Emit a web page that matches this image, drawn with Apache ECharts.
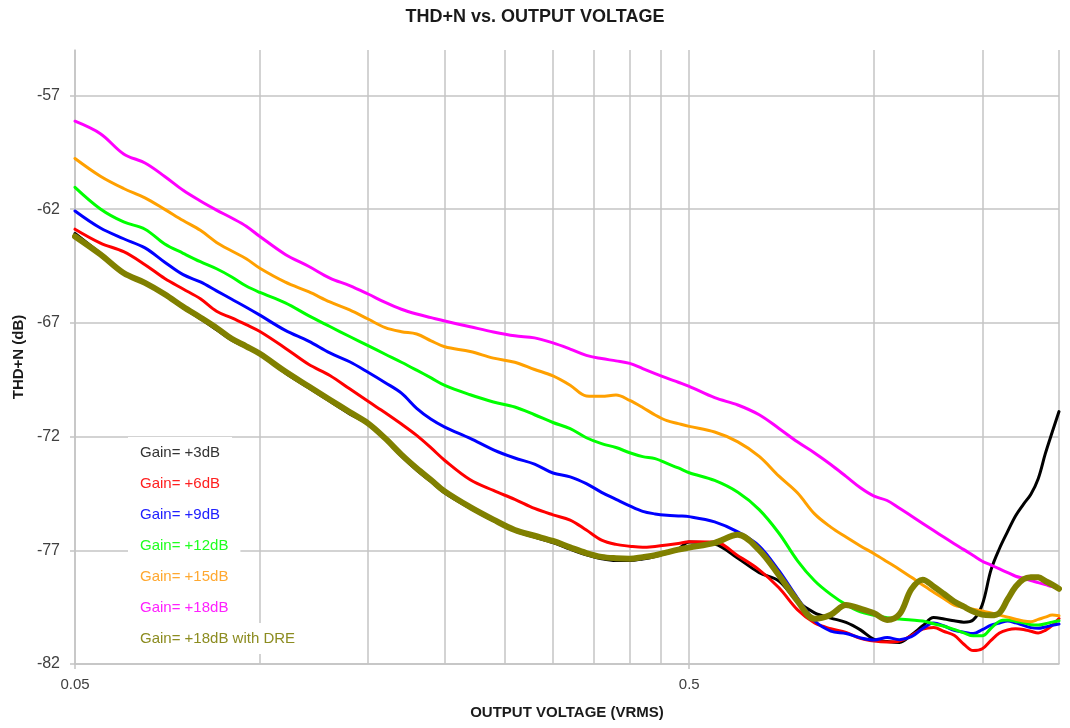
<!DOCTYPE html>
<html>
<head>
<meta charset="utf-8">
<script src="https://cdn.jsdelivr.net/npm/echarts@6/dist/echarts.min.js"></script>
<style>
html,body{margin:0;padding:0;background:#fff;}
#chart{width:1070px;height:728px;}
</style>
</head>
<body>
<div id="chart"></div>
<script>
const voltage = [0.05,0.055,0.06,0.065,0.07,0.075,0.08,0.085,0.09,0.095,
  0.1,0.11,0.12,0.13,0.14,0.15,0.16,0.17,0.18,0.19,0.2,
  0.22,0.24,0.26,0.28,0.3,0.32,0.34,0.36,0.38,0.4,0.42,0.44,0.46,0.48,
  0.5,
  0.55,0.6,0.65,0.7,0.75,0.8,0.85,0.9,0.95,
  1.0,1.05,1.1,1.15,1.2,1.25,1.3,1.35,1.4,1.45,1.5,1.55,1.6,1.65,1.7,1.75,1.8,1.85,1.9,1.95,2.0];

const gain3 = [-63.07,-63.95,-64.8,-65.25,-65.78,-66.33,-66.82,-67.3,-67.76,-68.07,
  -68.38,-69.2,-69.85,-70.45,-71.0,-71.45,-72.12,-72.86,-73.47,-73.98,-74.48,
  -75.15,-75.7,-76.15,-76.42,-76.66,-76.95,-77.2,-77.37,-77.45,-77.45,-77.38,-77.27,-77.12,-76.95,
  -76.63,
  -76.72,-77.35,-77.98,-78.35,-79.24,-79.75,-79.98,-80.17,-80.5,
  -80.92,-81.01,-81.05,-80.72,-80.32,-79.96,-80.02,-80.1,-80.16,-80.06,-79.39,-77.86,-76.92,-76.17,-75.48,-74.98,-74.53,-73.85,-72.75,-71.8,-70.9];

const gain6 = [-62.88,-63.49,-63.87,-64.44,-65.05,-65.51,-65.94,-66.49,-66.78,-67.08,
  -67.38,-68.11,-68.82,-69.31,-69.9,-70.45,-70.95,-71.45,-71.95,-72.5,-73.05,
  -73.9,-74.37,-74.76,-75.16,-75.44,-75.67,-76.11,-76.55,-76.74,-76.82,-76.87,-76.83,-76.77,-76.7,
  -76.62,
  -76.63,-77.24,-77.86,-78.65,-79.61,-80.19,-80.45,-80.61,-80.87,
  -80.99,-81.03,-80.99,-80.75,-80.47,-80.4,-80.57,-80.74,-81.13,-81.41,-81.33,-80.96,-80.64,-80.5,-80.45,-80.48,-80.56,-80.64,-80.52,-80.3,-80.0];

const gain9 = [-62.08,-62.83,-63.3,-63.7,-64.33,-64.88,-65.2,-65.59,-65.96,-66.31,
  -66.66,-67.33,-67.8,-68.32,-68.71,-69.17,-69.63,-70.09,-70.76,-71.24,-71.58,
  -72.08,-72.58,-72.94,-73.21,-73.6,-73.77,-74.07,-74.45,-74.76,-75.05,-75.29,-75.4,-75.46,-75.49,
  -75.52,
  -75.75,-76.19,-76.81,-77.9,-79.09,-80.1,-80.55,-80.66,-80.85,
  -80.94,-80.84,-80.93,-80.8,-80.44,-80.2,-80.33,-80.52,-80.6,-80.66,-80.49,-80.29,-80.2,-80.11,-80.19,-80.3,-80.4,-80.43,-80.37,-80.3,-80.24];

const gain12 = [-61.04,-61.99,-62.56,-62.88,-63.53,-63.94,-64.31,-64.62,-64.98,-65.38,
  -65.66,-66.12,-66.68,-67.16,-67.6,-68.0,-68.38,-68.73,-69.08,-69.42,-69.75,
  -70.16,-70.48,-70.7,-71.04,-71.38,-71.65,-72.05,-72.31,-72.48,-72.71,-72.88,-72.97,-73.18,-73.38,
  -73.59,
  -73.93,-74.45,-75.21,-76.25,-77.45,-78.34,-78.94,-79.39,-79.71,
  -79.86,-79.97,-80.02,-80.06,-80.11,-80.23,-80.34,-80.48,-80.63,-80.76,-80.76,-80.43,-80.12,-80.07,-80.13,-80.19,-80.27,-80.29,-80.23,-80.16,-80.1];

const gain15 = [-59.77,-60.55,-61.09,-61.5,-62.01,-62.5,-62.93,-63.46,-63.84,-64.18,
  -64.6,-65.21,-65.63,-66.08,-66.43,-66.83,-67.21,-67.39,-67.49,-67.79,-68.05,
  -68.26,-68.55,-68.73,-69.05,-69.33,-69.74,-70.21,-70.23,-70.17,-70.41,-70.72,-71.05,-71.3,-71.43,
  -71.55,
  -71.8,-72.23,-72.87,-73.74,-74.47,-75.4,-75.98,-76.42,-76.81,
  -77.15,-77.5,-77.84,-78.19,-78.53,-78.84,-79.13,-79.41,-79.51,-79.59,-79.67,-79.76,-79.85,-79.94,-80.03,-80.11,-80.14,-80.04,-79.94,-79.85,-79.88];

const gain18 = [-58.13,-58.68,-59.57,-59.97,-60.56,-61.17,-61.64,-62.04,-62.39,-62.75,
  -63.2,-63.99,-64.51,-65.03,-65.36,-65.73,-66.1,-66.4,-66.61,-66.77,-66.92,
  -67.17,-67.4,-67.57,-67.66,-67.88,-68.15,-68.43,-68.57,-68.67,-68.78,-69.01,-69.23,-69.43,-69.61,
  -69.79,
  -70.29,-70.61,-71.04,-71.64,-72.23,-72.72,-73.23,-73.75,-74.25,
  -74.62,-74.81,-75.15,-75.49,-75.82,-76.13,-76.43,-76.71,-76.97,-77.23,-77.48,-77.65,-77.82,-77.98,-78.14,-78.23,-78.33,-78.42,-78.51,-78.6,-78.68];

const gain18dre = [-63.2,-63.99,-64.81,-65.24,-65.74,-66.29,-66.76,-67.22,-67.7,-68.03,
  -68.36,-69.14,-69.79,-70.38,-70.92,-71.42,-72.08,-72.79,-73.39,-73.91,-74.41,
  -75.1,-75.65,-76.11,-76.36,-76.59,-76.87,-77.12,-77.29,-77.35,-77.37,-77.3,-77.22,-77.09,-76.97,
  -76.88,
  -76.67,-76.32,-76.99,-78.1,-79.22,-80.01,-79.83,-79.41,-79.57,
  -79.77,-80.06,-79.81,-78.71,-78.29,-78.59,-78.92,-79.25,-79.48,-79.69,-79.83,-79.86,-79.75,-79.15,-78.6,-78.27,-78.18,-78.19,-78.35,-78.51,-78.69];

const seriesNames = ['Gain= +3dB','Gain= +6dB','Gain= +9dB','Gain= +12dB','Gain= +15dB','Gain= +18dB','Gain= +18dB with DRE'];
const seriesValues = [gain3, gain6, gain9, gain12, gain15, gain18, gain18dre];
const seriesColors = ['#000000','#ff0000','#0000ff','#00ff00','#ffa000','#ff00ff','#808000'];
const legendColors = ['#333333','#ff2020','#2020ff','#20ff20','#ffa830','#ff20ff','#8c8c20'];
const seriesWidths = [3,3,3,3,3,3,6];

const xGridValues = [0.05,0.1,0.15,0.2,0.25,0.3,0.35,0.4,0.45,0.5,1,1.5,2];
const xLabelValues = [0.05,0.5];
const yTickValues = [-82,-77,-72,-67,-62,-57];

const FONT = '"Liberation Sans", Arial, sans-serif';
const GRIDC = '#c4c4c4';

const chart = echarts.init(document.getElementById('chart'), null, {renderer: 'canvas'});

const series = seriesNames.map((name, i) => ({
  name: name,
  type: 'line',
  xAxisIndex: 0,
  yAxisIndex: 0,
  data: voltage.map((v, k) => [v, seriesValues[i][k]]),
  showSymbol: false,
  smooth: 0.35,
  lineStyle: {color: seriesColors[i], width: seriesWidths[i], cap: 'round', join: 'round'},
  itemStyle: {color: seriesColors[i]},
  emphasis: {disabled: true},
  z: 2 + i
}));

chart.setOption({
  animation: false,
  backgroundColor: '#ffffff',
  title: {
    text: 'THD+N vs. OUTPUT VOLTAGE',
    left: 'center',
    top: 3,
    textStyle: {fontFamily: FONT, fontSize: 18, fontWeight: 'bold', color: '#1a1a1a'}
  },
  grid: {left: 75, right: 11, top: 50, bottom: 64, containLabel: false, outerBoundsMode: 'none'},
  legend: {
    orient: 'vertical',
    left: 123,
    top: 437,
    padding: 0,
    itemGap: 0,
    itemWidth: 0,
    itemHeight: 0,
    icon: 'none',
    selectedMode: false,
    textStyle: {fontFamily: FONT, fontSize: 15, lineHeight: 15, backgroundColor: '#ffffff', padding: [8, 12, 8, 12]},
    data: seriesNames.map((n, i) => ({name: n, icon: 'none', textStyle: {color: legendColors[i]}}))
  },
  xAxis: [{
    type: 'log',
    logBase: 10,
    min: 0.05,
    max: 2,
    position: 'bottom',
    name: 'OUTPUT VOLTAGE (VRMS)',
    nameLocation: 'middle',
    nameGap: 41,
    nameTextStyle: {fontFamily: FONT, fontSize: 15, fontWeight: 'bold', color: '#1a1a1a'},
    axisLine: {show: true, lineStyle: {color: GRIDC, width: 1.5}},
    axisTick: {show: false, customValues: xGridValues},
    axisLabel: {customValues: xLabelValues, margin: 13, fontFamily: FONT, fontSize: 15, color: '#404040',
      formatter: v => String(+(+v).toPrecision(3))},
    splitLine: {show: true, lineStyle: {color: GRIDC, width: 1.5}},
    minorSplitLine: {show: false}
  }, {
    type: 'log',
    logBase: 10,
    min: 0.05,
    max: 2,
    position: 'bottom',
    axisLine: {show: false},
    axisTick: {show: true, length: 5, customValues: xLabelValues, lineStyle: {color: GRIDC, width: 1.5}},
    axisLabel: {show: false},
    splitLine: {show: false}
  }],
  yAxis: {
    type: 'value',
    min: -82,
    max: -55,
    name: 'THD+N (dB)',
    nameLocation: 'middle',
    nameGap: 44,
    nameRotate: 90,
    nameTextStyle: {fontFamily: FONT, fontSize: 15, fontWeight: 'bold', color: '#1a1a1a'},
    axisLine: {show: true, lineStyle: {color: GRIDC, width: 1.5}},
    axisTick: {show: true, length: 5, customValues: yTickValues, lineStyle: {color: GRIDC, width: 1.5}},
    axisLabel: {customValues: yTickValues, margin: 15, fontFamily: FONT, fontSize: 16, color: '#404040'},
    splitLine: {show: true, lineStyle: {color: GRIDC, width: 1.5}}
  },
  series: series
});
</script>
</body>
</html>
